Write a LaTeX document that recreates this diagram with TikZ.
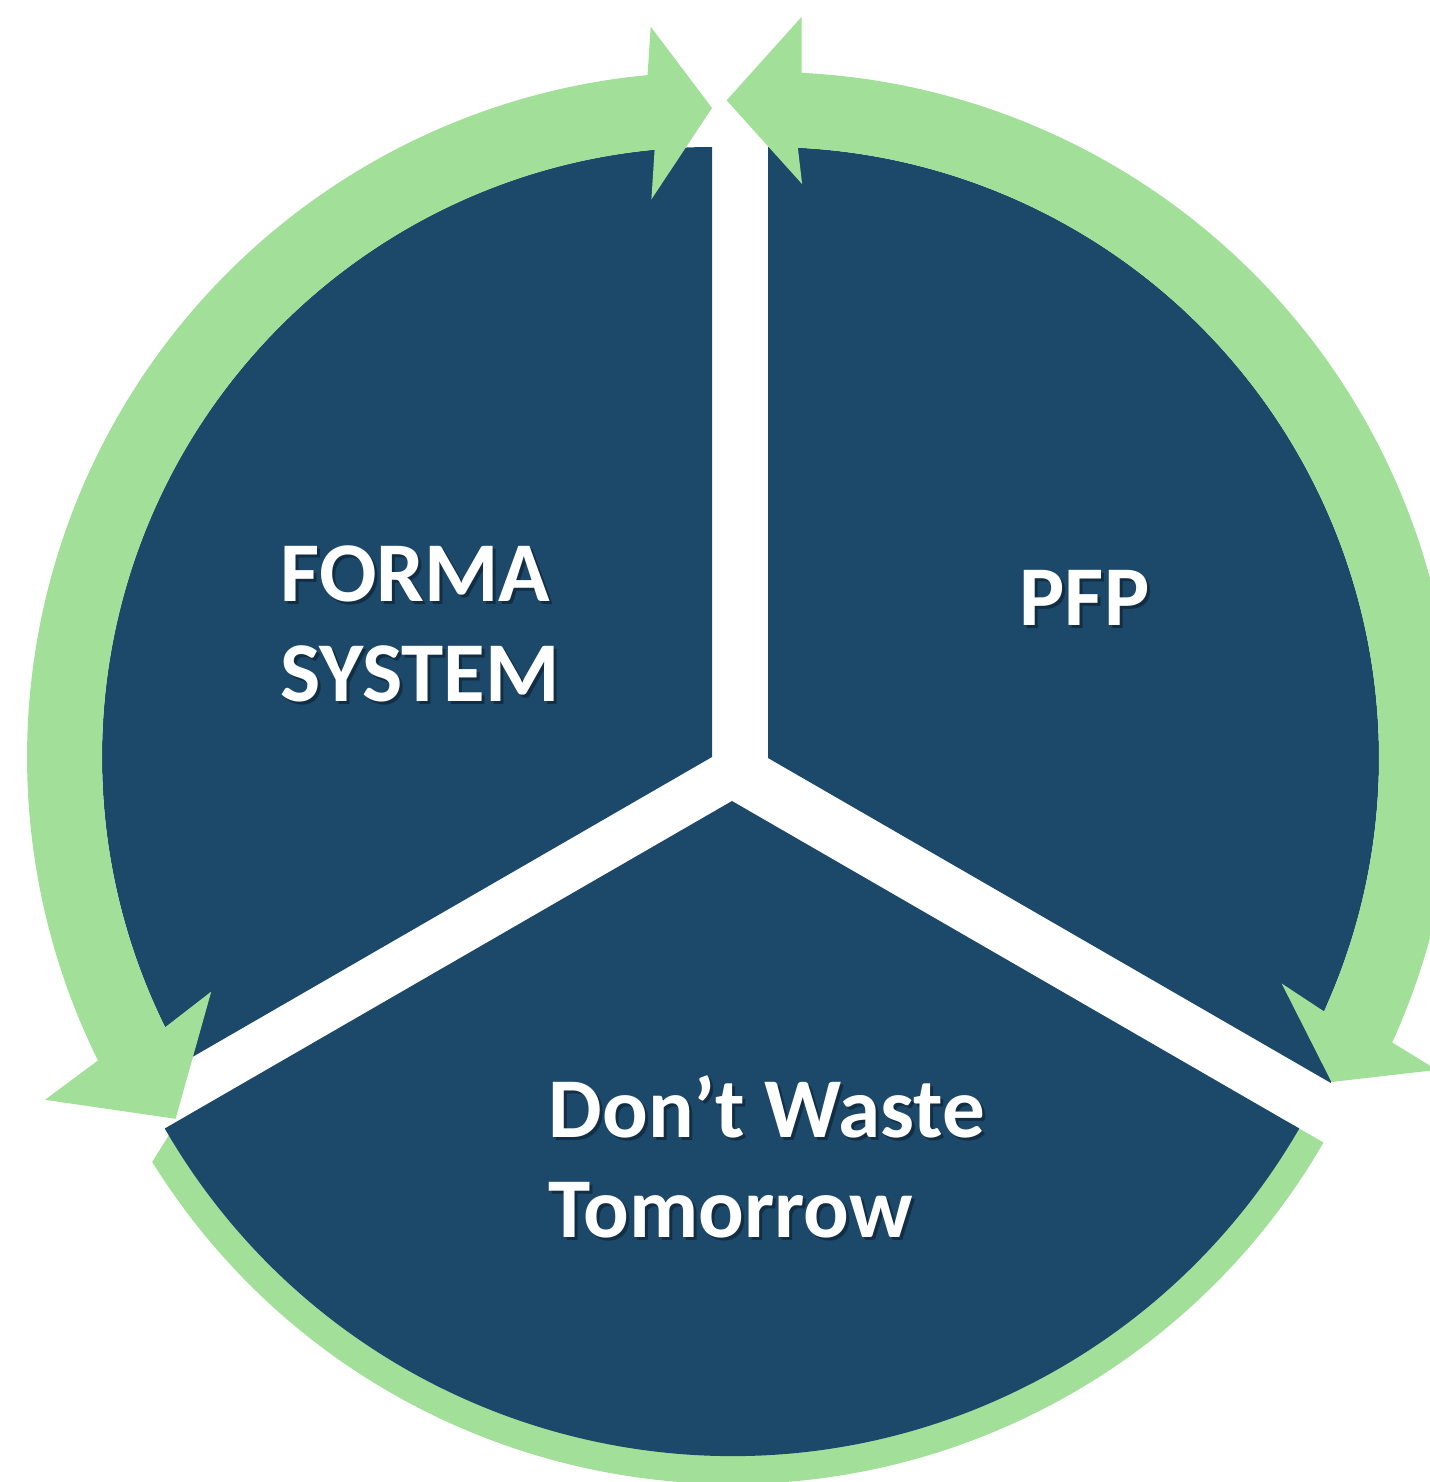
\documentclass[tikz,border=0pt]{standalone}
\usepackage{fontspec}
\setmainfont{Carlito}
\usetikzlibrary{positioning}
\definecolor{sectorblue}{HTML}{1C486A}
\definecolor{arrowgreen}{HTML}{A2E09A}

\begin{document}
\begin{tikzpicture}[x=0.01cm,y=0.01cm]
\tikzstyle{sector}=[fill=sectorblue]
\tikzstyle{arc arrow}=[fill=arrowgreen]
\tikzstyle{caption}=[text=white,font=\bfseries\fontsize{24.2}{28.6}\selectfont,align=left,inner sep=0pt,anchor=west]
\tikzstyle{shade}=[caption,text=black,opacity=0.35]
\useasboundingbox (0,0) rectangle (1429,-1482);
\coordinate (L) at (712,-757);
\coordinate (R) at (768,-758);
\coordinate (B) at (732,-801);

% green band behind the bottom sector
\fill[arc arrow,shift={(B)}] (210:640) -- (211.9:683) arc (211.9:330:683) -- (330:640) arc (330:210:640) -- cycle;

% the three sectors
\fill[sector] (L) -- ++(90:610) arc (90:210:610) -- cycle;
\fill[sector,shift={(R)}] (0,0) -- (-30:650) -- (-24:611) arc (-24:90:611) -- cycle;
\fill[sector] (B) -- ++(210:655) arc (210:330:655) -- cycle;

% double headed arrows
\fill[arc arrow,shift={(L)}] (95.4:685) arc (95.4:206.3:685) -- (207.2:750) -- (214:647) -- (205.1:553) -- (206.3:610) arc (206.3:95.4:610) -- (96.2:561) -- (90:649) -- (94.8:733) -- cycle;
\fill[arc arrow,shift={(R)}] (87.2:686) arc (87.2:-24.5:686) -- (-25:738) -- (-29.9:650) -- (-23.7:561) -- (-24.5:611) arc (-24.5:87.2:611) -- (86.6:575) -- (93.6:659) -- (87.4:742) -- cycle;

% labels
\node[shade] (forma shadow) at (283,-627) {FORMA\\SYSTEM};
\node[caption] (forma) at (280,-624) {FORMA\\SYSTEM};
\node[shade] (pfp shadow) at (1022,-601) {PFP};
\node[caption] (pfp) at (1019,-598) {PFP};
\node[shade] (dwt shadow) at (551,-1160) {Don’t Waste\\Tomorrow};
\node[caption] (dwt) at (548,-1157) {Don’t Waste\\Tomorrow};
\end{tikzpicture}
\end{document}
